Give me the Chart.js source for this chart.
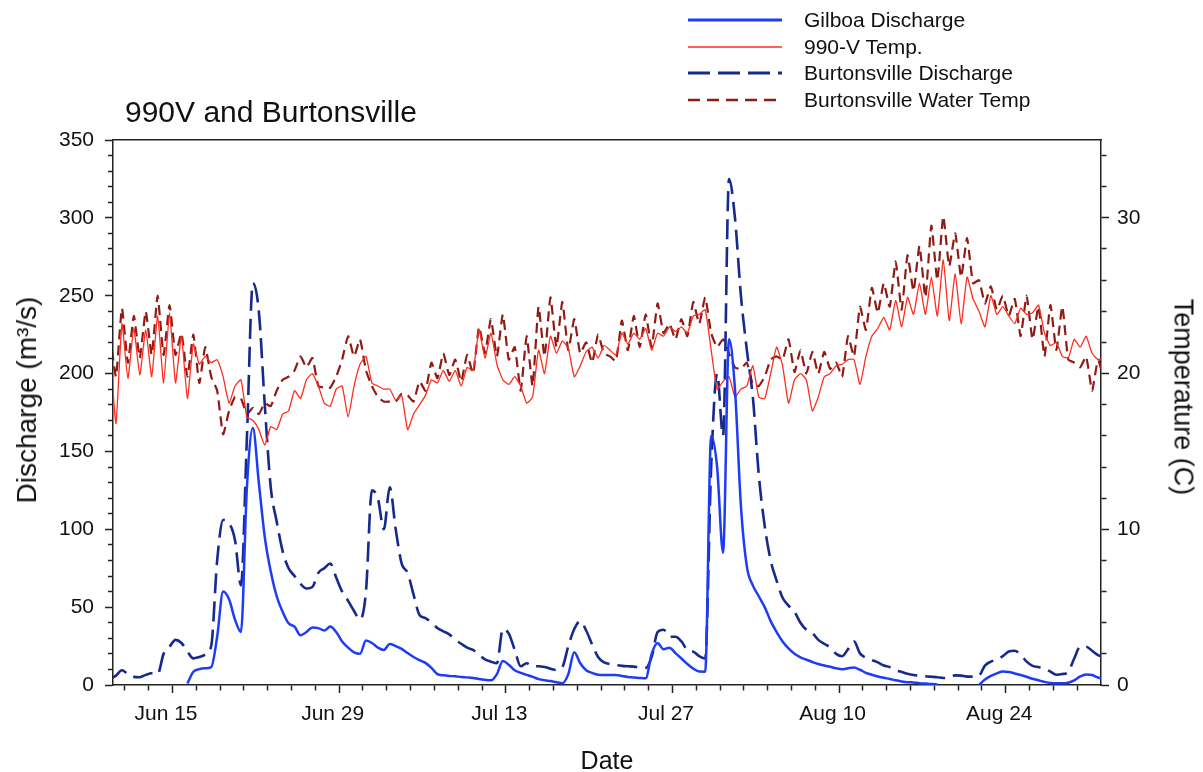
<!DOCTYPE html>
<html><head><meta charset="utf-8">
<script src="https://cdn.jsdelivr.net/npm/chart.js@4.4.1/dist/chart.umd.min.js"></script>
<style>
html,body{margin:0;padding:0;background:#fff;}
#wrap{position:relative;width:1203px;height:772px;font-family:"Liberation Sans",Arial,sans-serif;color:#111;overflow:hidden;}
canvas{position:absolute;left:0;top:0;}
#title{position:absolute;left:125px;top:95px;font-size:30px;line-height:34px;white-space:nowrap;}
#legend{position:absolute;left:686px;top:7px;}
.row{height:26.5px;display:flex;align-items:center;font-size:21px;white-space:nowrap;}
.row svg{width:100px;height:10px;margin-right:18px;flex:none;}
.ytitle{position:absolute;white-space:nowrap;line-height:1;}
#yl{left:26.5px;top:400px;font-size:28px;transform:translate(-50%,-50%) rotate(-90deg);}
#yr{left:1182.5px;top:397px;font-size:27px;transform:translate(-50%,-50%) rotate(90deg);}
</style></head>
<body><div id="wrap"><canvas id="c" width="1203" height="772"></canvas>
<div id="title">990V and Burtonsville</div>
<div class="ytitle" id="yl">Discharge (m³/s)</div>
<div class="ytitle" id="yr">Temperature (C)</div>
<div id="legend">
 <div class="row"><svg><line x1="2" y1="5" x2="96" y2="5" stroke="#1e3cf5" stroke-width="3"/></svg><span>Gilboa Discharge</span></div>
 <div class="row"><svg><line x1="2" y1="5" x2="96" y2="5" stroke="#ff2d1f" stroke-width="1.5"/></svg><span>990-V Temp.</span></div>
 <div class="row"><svg><line x1="2" y1="5" x2="96" y2="5" stroke="#152a8c" stroke-width="3" stroke-dasharray="22 8"/></svg><span>Burtonsville Discharge</span></div>
 <div class="row"><svg><line x1="2" y1="5" x2="96" y2="5" stroke="#8e1b14" stroke-width="2.5" stroke-dasharray="12 7"/></svg><span>Burtonsville Water Temp</span></div>
</div></div>
<script>
// time grid: days since Jun 10, half-day steps
const tStart = -0.25, tStep = 0.5;
const majorDays = [5, 19, 33, 47, 61, 75];
const majorLabels = ['Jun 15', 'Jun 29', 'Jul 13', 'Jul 27', 'Aug 10', 'Aug 24'];

const temp990 = [
 21.5,16.8,23.2,19.7,22.9,19.9,22.8,19.8,23.7,19.4,
 23.9,19.4,22.4,18.4,21.9,20.6,21.1,20.7,20.9,19.8,
 18.1,19.2,19.6,17.2,17.0,16.4,15.4,16.6,16.4,17.4,
 17.6,18.9,18.4,19.6,20.0,19.2,18.1,17.9,19.0,19.2,
 17.2,19.2,20.6,21.1,19.4,19.2,19.0,19.0,18.3,18.6,
 16.4,17.4,18.0,18.6,19.6,19.4,20.2,19.5,20.2,19.2,
 20.4,20.2,22.8,21.0,22.6,20.6,19.6,19.3,19.8,19.2,
 18.1,18.5,21.5,20.0,22.4,21.3,22.1,21.6,19.8,20.5,
 21.4,21.7,21.0,21.8,21.5,21.2,22.6,21.9,22.6,22.2,
 22.9,21.5,22.6,22.4,23.0,22.7,23.0,22.6,23.7,23.8,
 24.1,21.5,19.0,19.5,19.8,18.5,19.0,19.2,20.5,18.5,
 18.4,20.0,21.7,20.5,18.1,19.6,20.0,19.6,17.6,18.5,
 19.8,20.0,20.5,20.6,20.9,20.9,19.3,21.1,22.4,22.9,
 23.6,22.8,24.7,23.0,24.9,23.8,25.8,23.8,26.2,23.7,
 27.3,23.4,26.4,23.2,26.2,24.8,24.0,23.0,25.0,23.8,
 24.3,23.7,23.2,24.2,23.8,23.9,24.4,22.6,21.8,22.0,
 21.1,21.0,22.2,21.7,22.4,21.3,20.9,21.0
];
const burtTemp = [
 22.5,19.8,24.2,20.7,23.7,21.0,24.0,21.2,25.0,21.2,
 24.4,21.2,22.6,19.8,22.5,19.4,21.7,19.8,18.9,16.1,
 17.6,18.5,18.4,17.4,17.8,17.4,18.1,17.9,18.9,19.6,
 19.8,20.2,21.1,20.4,21.0,19.2,19.1,19.1,19.8,20.9,
 22.4,21.1,22.2,20.2,19.2,18.5,18.2,18.2,18.2,18.7,
 18.6,18.2,19.5,18.9,20.7,19.7,21.3,19.9,20.9,19.5,
 21.2,20.0,23.0,21.3,23.5,21.1,23.8,20.9,21.7,18.9,
 22.4,19.2,24.3,21.1,24.9,21.7,24.6,21.5,23.5,21.3,
 22.0,20.7,22.5,21.3,21.1,20.8,23.4,21.5,23.7,21.7,
 23.8,21.7,24.5,22.6,23.2,22.2,23.5,22.4,24.6,23.2,
 24.9,22.6,21.7,22.2,21.3,20.4,20.3,20.7,19.3,19.2,
 19.8,20.9,21.1,20.9,22.2,20.1,21.5,20.0,21.4,20.0,
 21.4,20.3,20.7,19.8,22.4,21.1,24.3,22.8,25.5,23.9,
 25.8,24.3,27.2,24.1,27.6,25.3,28.2,24.9,29.5,26.0,
 30.1,26.9,29.0,26.2,28.7,25.8,26.0,24.5,25.6,24.1,
 25.0,23.7,24.8,22.4,25.0,22.2,24.3,21.1,24.4,21.5,
 24.3,20.9,20.7,20.4,21.1,18.9,20.9,19.5
];
const gilboaQ = [
 null,null,null,null,null,null,null,null,null,null,
 null,null,null,1,8.5,10.2,10.7,11.5,31,60,
 55,42,34,127,165,130,95,73,57,47,
 39.6,37.5,32,34,37,36.5,35,37.5,34,28,
 24,21,20,28.5,27,24,22.5,26.3,25,23.2,
 20.5,18,16,14.2,11,7,6.2,5.8,5.6,5.2,
 4.9,4.5,3.8,3.3,3.0,7,15.4,13,9.5,7.8,
 6.5,5.2,3.8,3.0,2.5,1.8,1.2,7,21,14,
 9.5,7.8,6.6,6.4,6.4,6.4,5.8,5.2,4.8,4.5,
 4.3,20,27,23,24,20.5,17,13.5,10.5,8.6,
 8.5,160,140,85,222,190,115,76,64,57,
 50,41,34,28,23.5,20,17.7,16.2,14.8,13.5,
 12.5,11.7,10.7,10.1,10.8,11.2,9.8,7.8,6.6,5.5,
 4.6,3.9,3.0,2.3,1.8,1.6,1.2,0.9,0.6,0.4,
 null,null,null,null,null,null,0,3.5,5.8,7.5,
 8.6,8.3,7.4,6.4,5.3,4.0,3.0,2.0,1.3,1.1,
 1.1,1.5,3.0,5.5,6.8,6.4,4.8,4.0
];
const burtQ = [
 4,6,9.5,7,5.2,5,6.5,7.5,7,20,
 24.6,29,27,21.5,17.1,18,19.5,25,80,106,
 104,93,64,159,258,240,180,127,105,86,
 75,70,65,62,63,72,75,78,69,60,
 54,47.5,42,60,125,120,100,127,100,78,
 72,58,45,43,40,36.6,34.5,32.5,29,26.5,
 24,22.5,19.5,16.5,15,14,36,33,22.5,12,
 14,12,12,11.5,10.5,9.6,11.5,25,36,41,
 35,26,18,14.5,13.5,12.8,12.3,12,11.8,11.2,
 11,18,34,35.5,31,31,28,22.5,21.4,18.5,
 17,140,200,160,325,300,250,215,185,135,
 102,80,67,56,51,47,40,35.5,33.4,29,
 26.5,24,20,18.5,23,28,20.3,17.5,16,14.5,
 12.5,11.5,9.5,8.4,7.2,6.4,6,5.6,5.3,5,
 4.5,4.8,6.2,6,5.4,5.4,6,12.5,15,16.5,
 18.5,21.5,22,19.3,15,12.3,11.5,10.5,8.6,6.6,
 7,8.5,17,24.6,24.6,22,19.2,18
];

const times = temp990.map((_, i) => tStart + i * tStep);
const pts = arr => arr.map((v, i) => ({x: times[i], y: v}));
const range = (a, b, s) => { const r = []; for (let v = a; v <= b + 1e-9; v += s) r.push(v); return r; };

const AX = '#222';
const FONT = '"Liberation Sans", Arial, sans-serif';
const tickFont = {family: FONT, size: 21};
const titleFont = {family: FONT, size: 25, lineHeight: 1};

new Chart(document.getElementById('c'), {
  type: 'line',
  data: {
    datasets: [
      {label: 'Gilboa Discharge', data: pts(gilboaQ), yAxisID: 'y', borderColor: '#1e3cf5', borderWidth: 2.5, cubicInterpolationMode: 'monotone'},
      {label: '990-V Temp.', data: pts(temp990), yAxisID: 'y2', borderColor: '#ff2d1f', borderWidth: 1.3, tension: 0.15},
      {label: 'Burtonsville Discharge', data: pts(burtQ), yAxisID: 'y', borderColor: '#152a8c', borderWidth: 2.6, borderDash: [20, 8], cubicInterpolationMode: 'monotone'},
      {label: 'Burtonsville Water Temp', data: pts(burtTemp), yAxisID: 'y2', borderColor: '#8e1b14', borderWidth: 2.2, borderDash: [10, 6], tension: 0.15}
    ]
  },
  options: {
    responsive: false,
    animation: false,
    devicePixelRatio: 1,
    layout: {padding: {top: 140, left: 0, right: 0, bottom: 0}},
    elements: {point: {radius: 0}},
    plugins: {legend: {display: false}, tooltip: {enabled: false}, title: {display: false}},
    scales: {
      x: {
        type: 'linear', position: 'bottom', min: 0, max: 83,
        afterBuildTicks: s => { s.ticks = range(1, 81, 2).map(v => ({value: v})); },
        afterFit: s => { s.height = 87; },
        ticks: {autoSkip: false, maxRotation: 0, minRotation: 0, padding: 9, labelOffset: -6.5, color: '#111', font: tickFont,
          callback: v => { const k = majorDays.indexOf(v); return k >= 0 ? majorLabels[k] : ''; }},
        grid: {drawOnChartArea: false, tickLength: 8, tickColor: AX, tickWidth: 1.5,
          tickBorderDash: c => (c.tick && majorDays.indexOf(c.tick.value) < 0) ? [5, 100] : []},
        border: {color: AX, width: 1.5},
        title: {display: true, text: 'Date', color: '#111', font: titleFont, padding: {top: 0, bottom: -3}}
      },
      xTop: {
        type: 'linear', position: 'top', min: 0, max: 83,
        afterFit: s => { s.height = 0; },
        ticks: {display: false},
        grid: {drawOnChartArea: false, drawTicks: false},
        border: {color: AX, width: 1.5}
      },
      y: {
        type: 'linear', position: 'left', min: 0, max: 350,
        afterBuildTicks: s => { s.ticks = range(0, 350, 10).map(v => ({value: v})); },
        afterFit: s => { s.width = 113; },
        ticks: {autoSkip: false, padding: 11, color: '#111', font: tickFont,
          callback: v => (v % 50 === 0 ? String(v) : '')},
        grid: {drawOnChartArea: false, tickLength: 8, tickColor: AX, tickWidth: 1.5,
          tickBorderDash: c => (c.tick && c.tick.value % 50 !== 0) ? [0, 3, 5, 100] : []},
        border: {color: AX, width: 1.5}
      },
      y2: {
        type: 'linear', position: 'right', min: 0, max: 35,
        afterBuildTicks: s => { s.ticks = range(0, 34, 2).map(v => ({value: v})); },
        afterFit: s => { s.width = 102; },
        ticks: {autoSkip: false, padding: 8, color: '#111', font: tickFont,
          callback: v => (v % 10 === 0 ? String(v) : '')},
        grid: {drawOnChartArea: false, tickLength: 8, tickColor: AX, tickWidth: 1.5,
          tickBorderDash: c => (c.tick && c.tick.value % 10 !== 0) ? [5, 100] : []},
        border: {color: AX, width: 1.5}
      }
    }
  }
});
</script>
</body></html>
